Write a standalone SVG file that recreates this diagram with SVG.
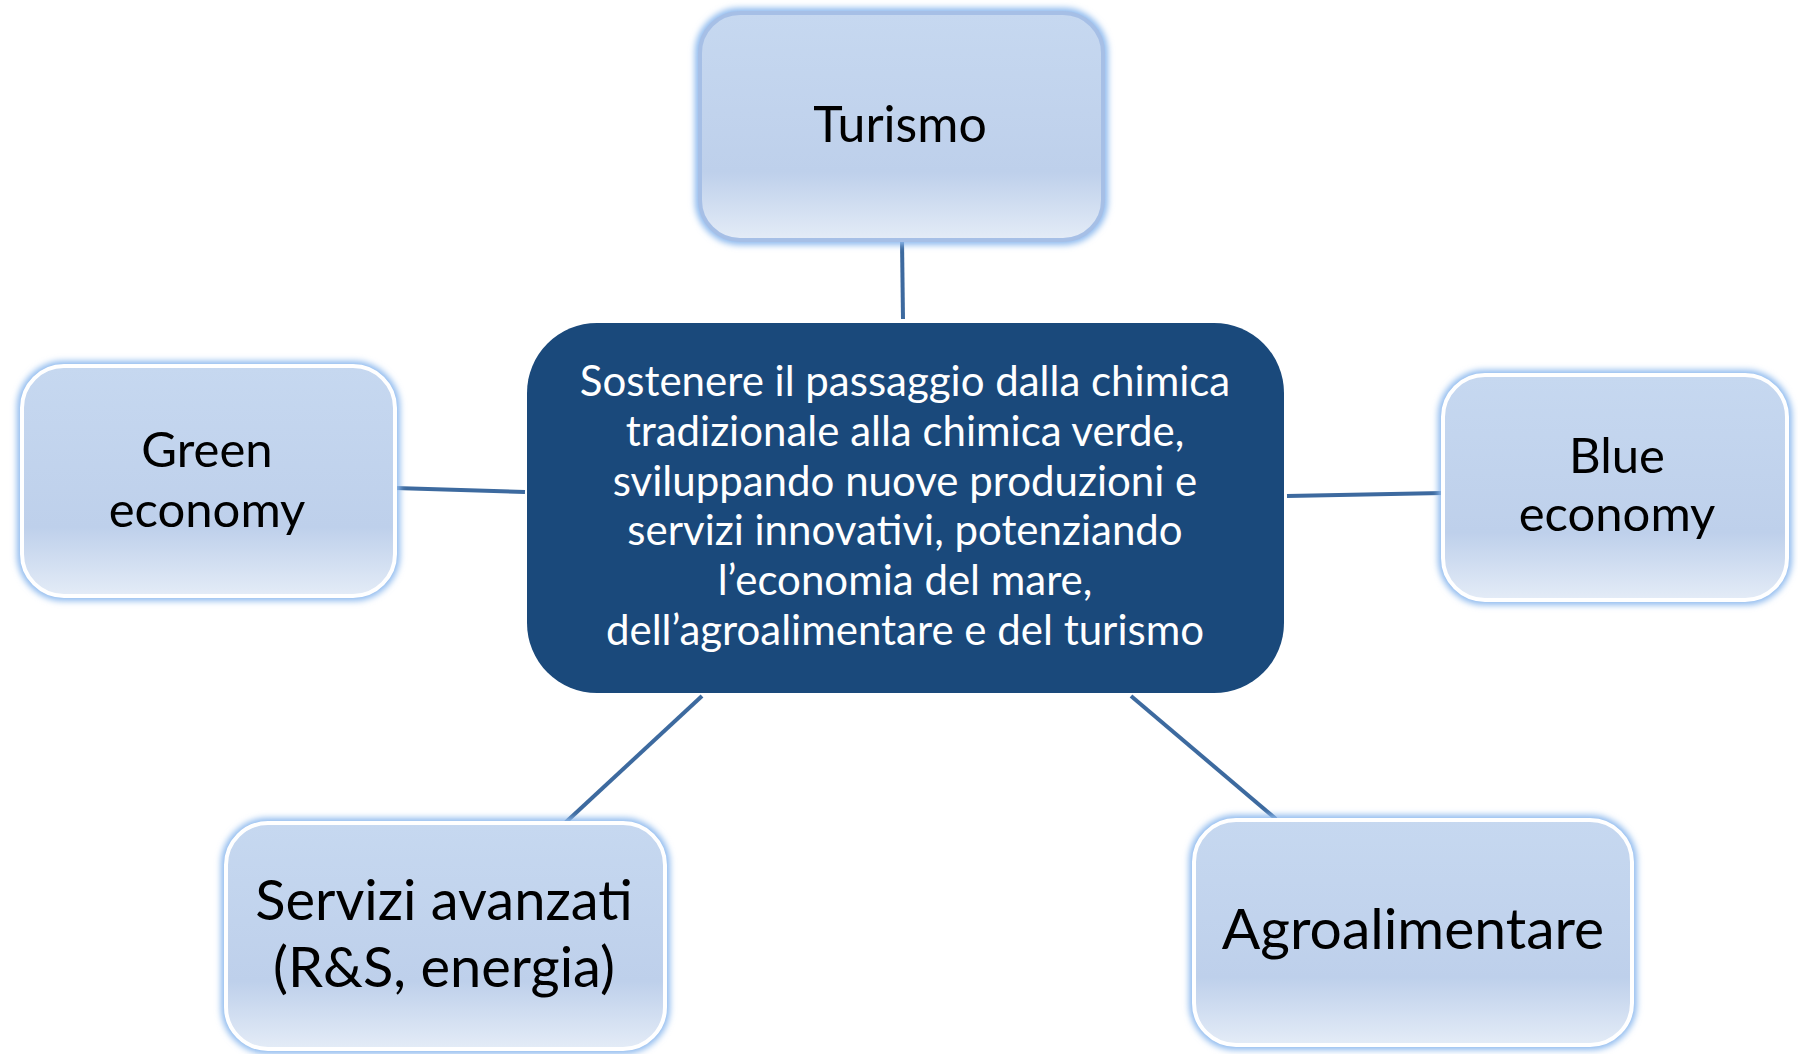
<svg xmlns="http://www.w3.org/2000/svg" width="1798" height="1054" viewBox="0 0 1798 1054">
  <defs>
    <linearGradient id="nodeFill" x1="0" y1="0" x2="0" y2="1">
      <stop offset="0" stop-color="#C6D8F0"/>
      <stop offset="0.7" stop-color="#BED0EB"/>
      <stop offset="1" stop-color="#E4ECF7"/>
    </linearGradient>
    <filter id="glow" x="-10%" y="-10%" width="120%" height="120%">
      <feGaussianBlur stdDeviation="3"/>
    </filter>
    <style>
      .glow { fill: none; stroke: #8DB9EE; stroke-width: 10; filter: url(#glow); }
      .node { fill: url(#nodeFill); stroke: #FFFFFF; stroke-width: 4; }
      .lbl { font-family: Lato, "Open Sans", "Liberation Sans", sans-serif; fill: #000000; text-anchor: middle; }
      .main { fill: #1A497B; }
      .mainlbl { font-family: Lato, "Open Sans", "Liberation Sans", sans-serif; fill: #FFFFFF; text-anchor: middle; font-size: 42px; }
      .conn { stroke: #3D6A9F; stroke-width: 4; fill: none; }
    </style>
  </defs>
  <rect width="1798" height="1054" fill="#FFFFFF"/>

  <g id="connectors">
    <line class="conn" x1="902" y1="240" x2="903" y2="319"/>
    <line class="conn" x1="395" y1="488" x2="525" y2="492"/>
    <line class="conn" x1="1287" y1="496" x2="1443" y2="493"/>
    <line class="conn" x1="702" y1="696" x2="565" y2="823"/>
    <line class="conn" x1="1131" y1="696" x2="1276" y2="819"/>
  </g>

  <g id="center">
    <rect class="main" x="527" y="323" width="757" height="370" rx="70" ry="70"/>
    <text class="mainlbl" x="905" y="396">Sostenere il passaggio dalla chimica</text>
    <text class="mainlbl" x="905" y="446">tradizionale alla chimica verde,</text>
    <text class="mainlbl" x="905" y="496">sviluppando nuove produzioni e</text>
    <text class="mainlbl" x="905" y="545">servizi innovativi, potenziando</text>
    <text class="mainlbl" x="905" y="595">l’economia del mare,</text>
    <text class="mainlbl" x="905" y="645">dell’agroalimentare e del turismo</text>
  </g>

  <g id="turismo">
    <rect class="glow" x="700" y="13" width="403" height="227" rx="40" ry="40"/>
    <rect class="node" x="700" y="13" width="403" height="227" rx="40" ry="40" style="stroke:#A6BFE6"/>
    <text class="lbl" x="900" y="142" font-size="50">Turismo</text>
  </g>

  <g id="green">
    <rect class="glow" x="22" y="366" width="373" height="230" rx="42" ry="42"/>
    <rect class="node" x="22" y="366" width="373" height="230" rx="42" ry="42"/>
    <text class="lbl" x="207" y="467" font-size="49">Green</text>
    <text class="lbl" x="207" y="527" font-size="49">economy</text>
  </g>

  <g id="blue">
    <rect class="glow" x="1443" y="375" width="344" height="225" rx="42" ry="42"/>
    <rect class="node" x="1443" y="375" width="344" height="225" rx="42" ry="42"/>
    <text class="lbl" x="1617" y="473" font-size="49">Blue</text>
    <text class="lbl" x="1617" y="531" font-size="49">economy</text>
  </g>

  <g id="servizi">
    <rect class="glow" x="226" y="823" width="439" height="226" rx="42" ry="42"/>
    <rect class="node" x="226" y="823" width="439" height="226" rx="42" ry="42"/>
    <text class="lbl" x="444" y="920" font-size="56">Servizi avanzati</text>
    <text class="lbl" x="444" y="987" font-size="56">(R&amp;S, energia)</text>
  </g>

  <g id="agro">
    <rect class="glow" x="1194" y="820" width="438" height="225" rx="42" ry="42"/>
    <rect class="node" x="1194" y="820" width="438" height="225" rx="42" ry="42"/>
    <text class="lbl" x="1413" y="949" font-size="57">Agroalimentare</text>
  </g>
</svg>
